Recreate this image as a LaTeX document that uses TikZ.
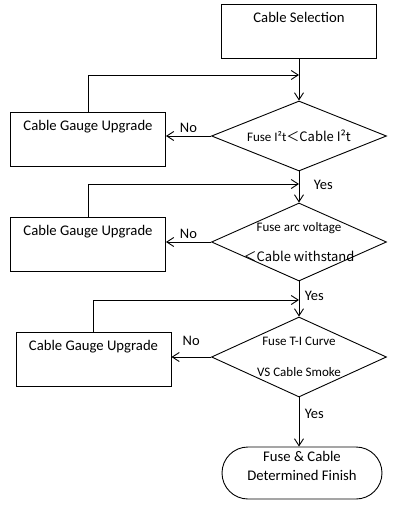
\documentclass[tikz,border=0pt]{standalone}
\usepackage{fontspec}
\setmainfont{Carlito}
\newfontfamily\cjk{Noto Sans CJK SC}
\usetikzlibrary{shapes.geometric, arrows.meta, positioning}
\tikzset{
->, % every connector is directed
>={Straight Barb[length=7pt, width=9pt]}, % open arrow heads
block/.style={draw, rectangle, minimum width=155pt, minimum height=54pt, text height=11pt, text depth=28pt, font=\fontsize{14.7}{17.6}\selectfont}, % text sits near the top of the box
decision/.style={draw, diamond, aspect=2.5, minimum width=175pt, minimum height=70pt, inner xsep=0pt, inner ysep=-16pt, align=center, font=\fontsize{13}{15.6}\selectfont},
finish/.style={draw, rectangle, rounded corners=26pt, minimum width=160pt, minimum height=52pt, align=center, text depth=14pt, font=\fontsize{14.7}{17.6}\selectfont},
answer/.style={font=\fontsize{14.5}{17}\selectfont},
}

\begin{document}
\begin{tikzpicture}[x=1pt, y=1pt, line width=0.9pt]
        \useasboundingbox (-299,31) rectangle (109,-480);

        \node[block] (sel) {Cable Selection};
        \node[decision, below of=sel, node distance=105pt] (i2t) {Fuse I²t\cjk{＜}Cable I²t};
        \node[decision, below of=i2t, node distance=106pt, minimum height=78pt] (arc) {Fuse arc voltage\\[15pt]\cjk{＜}Cable withstand};
        \node[decision, below of=arc, node distance=115pt, minimum height=80pt] (ti) {Fuse T-I Curve\\[16pt]VS Cable Smoke};
        \node[finish, below of=ti, node distance=116pt, xshift=3pt] (fin) {Fuse \& Cable\\[2pt]Determined Finish};

        \node[block, left of=i2t, node distance=211pt, yshift=-3pt] (up1) {Cable Gauge Upgrade};
        \node[block, left of=arc, node distance=211pt, yshift=-2pt] (up2) {Cable Gauge Upgrade};
        \node[block, left of=ti, node distance=205.5pt, yshift=-2pt] (up3) {Cable Gauge Upgrade};

        \coordinate[below of=sel, node distance=44pt] (j1);
        \coordinate[below of=i2t, node distance=48pt] (j2);
        \coordinate[below of=arc, node distance=58pt] (j3);

        \draw (sel) -- (i2t);
        \draw (i2t) -- node[answer, pos=0.44, right=11pt] {Yes} (arc);
        \draw (arc) -- node[answer, pos=0.42, right=2pt] {Yes} (ti);
        \draw (ti) -- node[answer, pos=0.34, right=2pt] {Yes} (ti |- fin.north);

        \draw (i2t.west) -- node[answer, above] {No} (i2t.west -| up1.east);
        \draw (arc.west) -- node[answer, above] {No} (arc.west -| up2.east);
        \draw (ti.west) -- node[answer, above=8pt] {No} (ti.west -| up3.east);

        \draw (up1) |- (j1);
        \draw (up2) |- (j2);
        \draw (up3) |- (j3);
    \end{tikzpicture}
\end{document}
